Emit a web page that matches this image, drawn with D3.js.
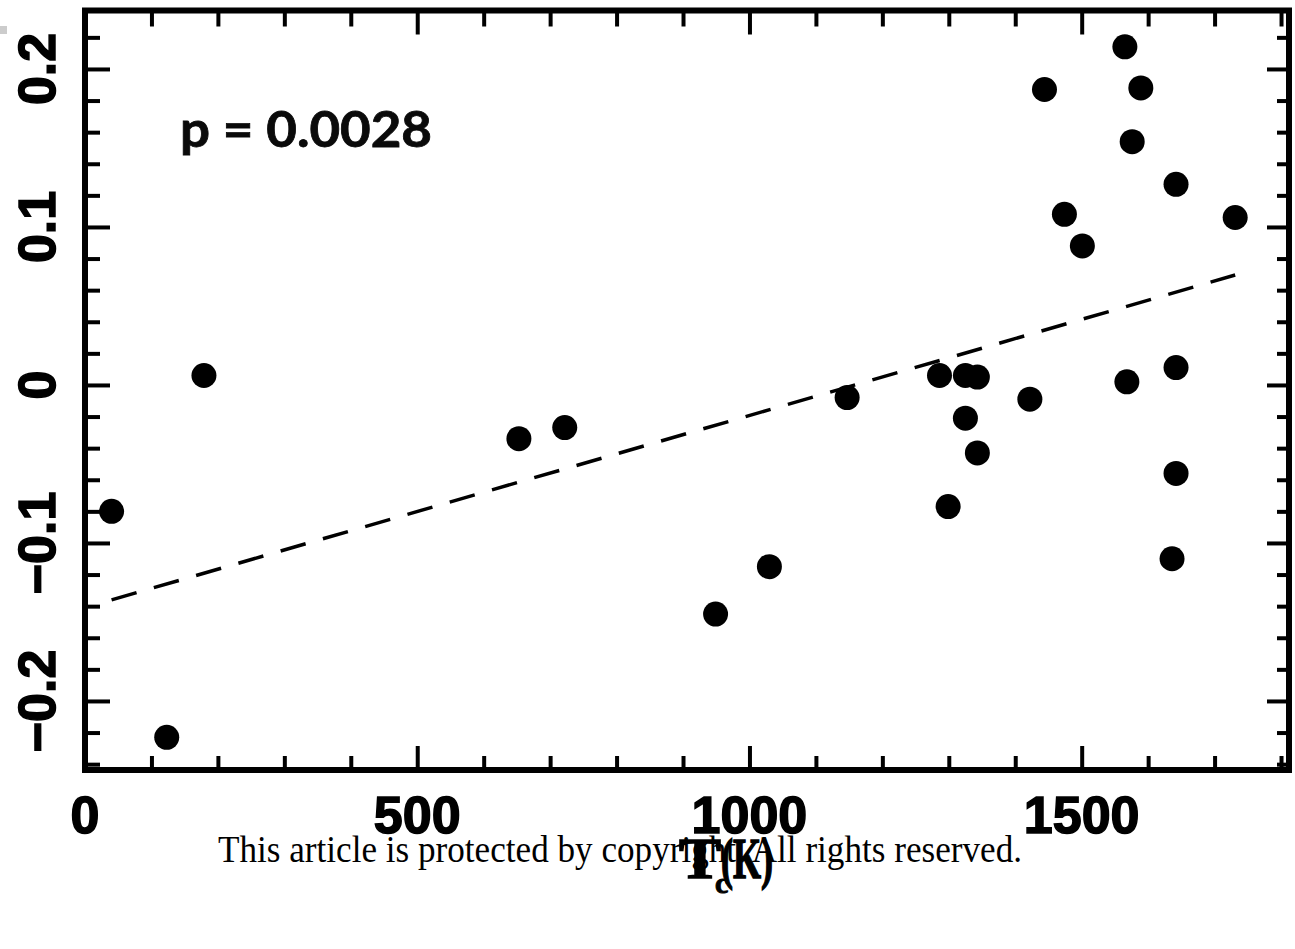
<!DOCTYPE html>
<html>
<head>
<meta charset="utf-8">
<script src="https://cdn.jsdelivr.net/npm/d3@7"></script>
<style>
  body { margin: 0; background: #fff; }
  svg { display: block; }
</style>
</head>
<body>
<div id="chart"></div>
<script>
// condensation temperature (K) and abundance difference
const tcValues = [40, 123, 179, 653, 722, 949, 1030, 1147, 1286, 1299, 1325, 1325, 1343, 1343,
                  1422, 1444, 1474, 1501, 1565, 1568, 1576, 1589, 1636, 1642, 1642, 1642, 1731];
const diffValues = [-0.080, -0.223, 0.006, -0.034, -0.027, -0.145, -0.115, -0.008, 0.006, -0.077,
                    0.006, -0.021, 0.005, -0.043, -0.009, 0.187, 0.108, 0.088, 0.214, 0.002,
                    0.154, 0.188, -0.110, 0.127, 0.011, -0.056, 0.106];

// linear fit drawn over the range of the data
const fitSlope = 0.0001216;
const fitIntercept = -0.1409;

const xTicks = [0, 500, 1000, 1500];
const yTicks = [-0.2, -0.1, 0, 0.1, 0.2];
const xLabels = ["0", "500", "1000", "1500"];
const yLabels = ["\u22120.2", "\u22120.1", "0", "0.1", "0.2"];
const pLabel = "p = 0.0028";
const notice = "This article is protected by copyright. All rights reserved.";

const W = 1295, H = 949;
const frame = { left: 85, right: 1289, top: 10.5, bottom: 770 };

const svg = d3.select("#chart").append("svg")
  .attr("width", W)
  .attr("height", H);

svg.append("rect").attr("width", W).attr("height", H).attr("fill", "#fff");

const x = d3.scaleLinear().domain([0, 1812]).range([frame.left, frame.right]);
const y = d3.scaleLinear().domain([-0.2437, 0.2370]).range([frame.bottom, frame.top]);

const xMinor = d3.range(0, 1812, 100).filter(v => v % 500 !== 0);
const yMinor = d3.range(-24, 24, 2).map(v => v / 100).filter(v => Math.abs(Math.round(v * 100)) % 10 !== 0);

// ==== ticks (inward, on all four sides) ====
function tickAxis(axis, translate, values, size) {
  const g = svg.append("g")
    .attr("transform", translate)
    .call(axis.tickValues(values).tickSize(size).tickFormat(""));
  g.select(".domain").remove();
  g.selectAll(".tick line").attr("stroke", "#000").attr("stroke-width", 4);
}

tickAxis(d3.axisBottom(x), `translate(0,${frame.bottom})`, xTicks, -24);
tickAxis(d3.axisBottom(x), `translate(0,${frame.bottom})`, xMinor, -14);
tickAxis(d3.axisTop(x), `translate(0,${frame.top})`, xTicks, -24);
tickAxis(d3.axisTop(x), `translate(0,${frame.top})`, xMinor, -16);
tickAxis(d3.axisLeft(y), `translate(${frame.left},0)`, yTicks, -25);
tickAxis(d3.axisLeft(y), `translate(${frame.left},0)`, yMinor, -15);
tickAxis(d3.axisRight(y), `translate(${frame.right},0)`, yTicks, -22);
tickAxis(d3.axisRight(y), `translate(${frame.right},0)`, yMinor, -12);

// frame
svg.append("rect")
  .attr("x", frame.left).attr("y", frame.top)
  .attr("width", frame.right - frame.left)
  .attr("height", frame.bottom - frame.top)
  .attr("fill", "none")
  .attr("stroke", "#000")
  .attr("stroke-width", 6);

// tick labels (heavy, plotter-like)
svg.append("g").selectAll("text")
  .data(xTicks)
  .join("text")
    .attr("x", d => x(d))
    .attr("y", 833)
    .attr("text-anchor", "middle")
    .attr("font-family", "Liberation Sans, Arial, sans-serif")
    .attr("font-weight", "bold")
    .attr("font-size", 52)
    .attr("stroke", "#000")
    .attr("stroke-width", 1.5)
    .text((d, i) => xLabels[i]);

svg.append("g").selectAll("text")
  .data(yTicks)
  .join("text")
    .attr("transform", d => `translate(55,${y(d)}) rotate(-90)`)
    .attr("text-anchor", "middle")
    .attr("font-family", "Liberation Sans, Arial, sans-serif")
    .attr("font-weight", "bold")
    .attr("font-size", 52)
    .attr("stroke", "#000")
    .attr("stroke-width", 1.5)
    .text((d, i) => yLabels[i]);

// regression line
const xExtent = d3.extent(tcValues);
svg.append("line")
  .attr("x1", x(xExtent[0])).attr("y1", y(fitIntercept + fitSlope * xExtent[0]))
  .attr("x2", x(xExtent[1])).attr("y2", y(fitIntercept + fitSlope * xExtent[1]))
  .attr("stroke", "#000")
  .attr("stroke-width", 3.5)
  .attr("stroke-dasharray", "26 18");

// points
svg.append("g").selectAll("circle")
  .data(tcValues)
  .join("circle")
    .attr("cx", d => x(d))
    .attr("cy", (d, i) => y(diffValues[i]))
    .attr("r", 12.5)
    .attr("fill", "#000");

// p value annotation
svg.append("text")
  .attr("x", 180)
  .attr("y", 147)
  .attr("font-family", "Lato, Open Sans, sans-serif")
  .attr("font-weight", "bold")
  .attr("font-size", 49)
  .attr("fill", "#0a0a0a")
  .attr("stroke", "#0a0a0a")
  .attr("stroke-width", 0.8)
  .attr("textLength", 252)
  .attr("lengthAdjust", "spacingAndGlyphs")
  .text(pLabel);

// overlaid notice
svg.append("text")
  .attr("x", 218)
  .attr("y", 862)
  .attr("font-family", "Liberation Serif, Times New Roman, serif")
  .attr("font-size", 37)
  .attr("fill", "#000")
  .attr("textLength", 804)
  .attr("lengthAdjust", "spacingAndGlyphs")
  .text(notice);

// axis title T_c(K)
const titleFont = "Liberation Serif, Times New Roman, serif";
svg.append("text")
  .attr("x", 679).attr("y", 878)
  .attr("font-family", titleFont).attr("font-weight", "bold").attr("font-size", 56)
  .attr("stroke", "#000").attr("stroke-width", 1.5)
  .attr("textLength", 42).attr("lengthAdjust", "spacingAndGlyphs")
  .text("T");
svg.append("text")
  .attr("x", 715).attr("y", 893)
  .attr("font-family", titleFont).attr("font-weight", "bold").attr("font-size", 30)
  .attr("stroke", "#000").attr("stroke-width", 1)
  .text("c");
svg.append("text")
  .attr("x", 721).attr("y", 878)
  .attr("font-family", titleFont).attr("font-weight", "bold").attr("font-size", 56)
  .attr("stroke", "#000").attr("stroke-width", 1.5)
  .attr("textLength", 52).attr("lengthAdjust", "spacingAndGlyphs")
  .text("(K)");

// small grey mark at the left edge
svg.append("rect")
  .attr("x", 0).attr("y", 26).attr("width", 7).attr("height", 8)
  .attr("fill", "#ccc");
</script>
</body>
</html>
